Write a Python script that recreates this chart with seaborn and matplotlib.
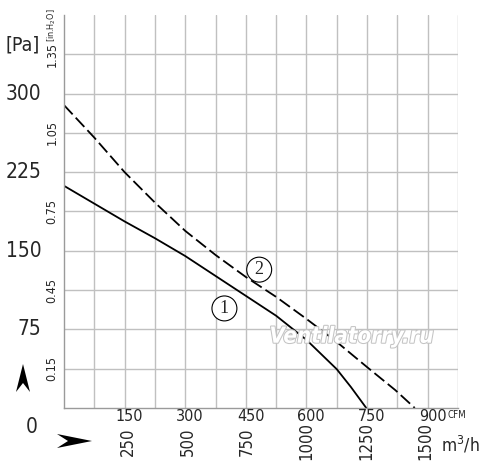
import numpy as np
import pandas as pd
import matplotlib
matplotlib.use('Agg')
import matplotlib.pyplot as plt
import matplotlib.transforms as mtransforms
import matplotlib.patheffects as pe
from matplotlib.patches import Polygon
import seaborn as sns

# curve data (CFM, Pa)
flow_cfm = [0, 75, 150, 225, 300, 375, 450, 525, 600, 675, 710, 748]
curve1_pa = [212, 195, 178, 162, 145, 126, 107, 88, 65, 37, 20, 0]
flow2_cfm = [0, 75, 150, 225, 300, 375, 450, 525, 600, 675, 750, 820, 868]
curve2_pa = [289, 258, 225, 196, 169, 146, 125, 106, 85, 63, 39, 17, 0]

pa_labels = [75, 150, 225, 300]
inh2o_labels = [0.15, 0.45, 0.75, 1.05, 1.35]
cfm_labels = [150, 300, 450, 600, 750, 900]
m3h_labels = [250, 500, 750, 1000, 1250, 1500]

df = pd.concat([
    pd.DataFrame({'cfm': flow_cfm, 'pa': curve1_pa, 'curve': '1'}),
    pd.DataFrame({'cfm': flow2_cfm, 'pa': curve2_pa, 'curve': '2'}),
])

sns.set_style('white')
plt.rcParams['font.family'] = ['DejaVu Sans']
plt.rcParams['font.stretch'] = 'condensed'

fig = plt.figure(figsize=(5.0, 4.76), dpi=100)
ax = fig.add_axes([0.128, 0.1429, 0.788, 0.8256])

sns.lineplot(data=df, x='cfm', y='pa', style='curve', dashes={'1': '', '2': (7, 2.5)},
             color='black', linewidth=1.3, legend=False, ax=ax, sort=False)

ax.set_xlim(0, 975)
ax.set_ylim(0, 375)
ax.set_xticks(np.arange(75, 976, 75))
ax.set_yticks(np.arange(37.5, 340, 37.5))
ax.grid(True, color='#c0c0c0', linewidth=1.0)
ax.tick_params(length=0, labelbottom=False, labelleft=False)
for s in ['top', 'right']:
    ax.spines[s].set_visible(False)
for s in ['left', 'bottom']:
    ax.spines[s].set_color('#9a9a9a')
    ax.spines[s].set_linewidth(1.0)
ax.set_xlabel('')
ax.set_ylabel('')

ytr = mtransforms.blended_transform_factory(ax.transAxes, ax.transData)
xtr = mtransforms.blended_transform_factory(ax.transData, ax.transAxes)

# pressure labels
for v in pa_labels:
    ax.text(-0.058, v, str(v), transform=ytr, ha='right', va='center', fontsize=15, clip_on=False)
ax.text(-0.066, -18, '0', transform=ytr, ha='right', va='center', fontsize=15, clip_on=False)
ax.text(-0.105, 346, '[Pa]', transform=ytr, ha='center', va='center', fontsize=14, clip_on=False)
for v in inh2o_labels:
    ax.text(-0.030, v * 250, '%.2f' % v, transform=ytr, ha='center', va='center',
            rotation=90, fontsize=9, clip_on=False)
ax.text(-0.030, 349, '[in.H$_2$O]', transform=ytr, ha='center', va='bottom',
        rotation=90, fontsize=6.5, clip_on=False)

# flow labels
for v in cfm_labels:
    ax.text(v + 12, -0.021, str(v), transform=xtr, ha='center', va='center', fontsize=11.5, clip_on=False)
ax.text(948, -0.019, 'CFM', transform=xtr, ha='left', va='center', fontsize=7, clip_on=False)
for v in m3h_labels:
    ax.text(v / 1.699 + 12, -0.085, str(v), transform=xtr, ha='center', va='center',
            rotation=90, fontsize=12, clip_on=False)
ax.text(932, -0.095, 'm$^3$/h', transform=xtr, ha='left', va='center', fontsize=12.5, clip_on=False)

# curve numbers
for lab, x, y in [('1', 397, 95), ('2', 483, 132)]:
    ax.text(x, y, lab, ha='center', va='center', fontsize=13, family='Liberation Serif',
            bbox=dict(boxstyle='circle,pad=0.22', fc='white', ec='black', lw=0.8))

# watermark
ax.text(712, 68, 'Ventilatorry.ru', ha='center', va='center', fontsize=16, fontweight='bold',
        fontstyle='italic', color='white',
        path_effects=[pe.withStroke(linewidth=1.5, foreground='#c4c4c4')])

# axis arrows
def px(pts):
    return [(x / 500, 1 - y / 476) for x, y in pts]

fig.patches.append(Polygon(px([(23, 364), (30, 392), (23, 383), (16, 392)]),
                           closed=True, fc='black', ec='none', transform=fig.transFigure))
fig.patches.append(Polygon(px([(57, 434), (92, 441), (57, 448), (68, 441)]),
                           closed=True, fc='black', ec='none', transform=fig.transFigure))

fig.savefig('out.png', dpi=100)
